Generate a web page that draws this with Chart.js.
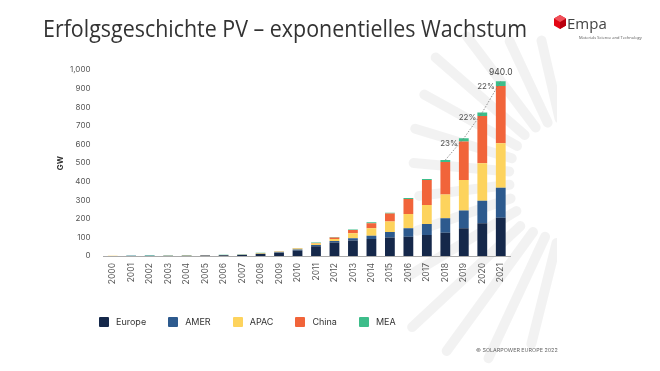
<!DOCTYPE html>
<html><head><meta charset="utf-8">
<script src="https://cdn.jsdelivr.net/npm/chart.js@4"></script>
<style>
html,body{margin:0;padding:0;background:#fff;}
#page{position:relative;width:660px;height:371px;overflow:hidden;font-family:"Inter",sans-serif;}
#chart{position:absolute;left:0;top:0;}
#title{position:absolute;left:43px;top:12px;font-family:"Open Sans",sans-serif;font-size:24px;line-height:32px;color:#333;white-space:nowrap;transform-origin:0 50%;}
#logo{position:absolute;left:553px;top:14px;}
#empa{position:absolute;left:567px;top:13px;font-family:"Open Sans",sans-serif;font-size:15px;line-height:20px;color:#444;}
#empasub{position:absolute;left:579px;top:35px;font-family:"Open Sans",sans-serif;font-size:4px;line-height:5px;color:#555;white-space:nowrap;}
#legend{position:absolute;left:99px;top:316px;display:flex;align-items:center;font-size:9px;color:#333;}
#legend .it{display:flex;align-items:center;margin-right:22px;}
#legend .sw{width:10px;height:10px;border-radius:1px;margin-right:7px;}
#copy{position:absolute;left:476px;top:346px;font-size:5.4px;line-height:8px;color:#666;white-space:nowrap;}
</style></head>
<body><div id="page">
<canvas id="chart" width="660" height="371"></canvas>
<div id="title">Erfolgsgeschichte PV – exponentielles Wachstum</div>
<svg id="logo" width="14" height="16" viewBox="0 0 14 16">
 <polygon points="7,1 13,4.5 13,11.5 7,15 1,11.5 1,4.5" fill="#e30613"/>
 <polygon points="7,8 13,4.5 13,11.5 7,15" fill="#b8000f"/>
 <polygon points="7,1 13,4.5 7,8 1,4.5" fill="#f0505a"/>
</svg>
<div id="empa">Empa</div>
<div id="empasub">Materials Science and Technology</div>
<div id="legend"></div>
<div id="copy">© SOLARPOWER EUROPE 2022</div>
</div>
<script>
// ---- data ----
const years = ["2000","2001","2002","2003","2004","2005","2006","2007","2008","2009","2010","2011","2012","2013","2014","2015","2016","2017","2018","2019","2020","2021"];
const seriesNames = ["Europe","AMER","APAC","China","MEA"];
const europe = [0.2,0.5,0.5,0.6,0.7,2.5,3.5,5.5,11,17,30,53,72,84,91,99,104,113,125,149,176,206];
const amer   = [0.1,0.2,0.2,0.2,0.3,0.5,0.7,1,1.5,2.5,4.5,6,9,11,18,30,45,59,78,95,121,161];
const apac   = [0.4,1,1.2,1.3,1.5,1,1.2,2,3,4,5.5,8,11,27,40,56,77,102,127,165,201,239];
const china  = [0.5,0,0,0,0,0,0,0,0.3,0.5,1,3,7,18,27,44,80,135,175,206,255,308];
const mea    = [0,1.3,1.6,1.9,2,0.5,0.8,1.5,2,2,2,2,3,3,5,4,6,5,11,18,19,26];
const seriesColors = ["#15284a","#2d5a8e","#fdd35d","#f1643a","#3dbd8a"];
const growthFrom = "2018";
const yTicksMax = 1000, yTickStep = 100;

// ---- layout decoration ----
const RAY_C = {x:573, y:177};
const RAYS = [[104,68,172],[115,66,200],[126,68,215],[137,72,220],[149,66,190],[161,66,165],[173,64,155],[185,64,160],[197,64,165],[209,64,170],[221,64,182],[233,62,176],[245,60,150],[257,60,140]];

const seriesData = [europe, amer, apac, china, mea];
const totals = years.map((_,i)=>seriesData.reduce((s,a)=>s+a[i],0));

// legend
const lg = document.getElementById('legend');
seriesNames.forEach((n,k)=>{
  const it=document.createElement('div'); it.className='it';
  it.innerHTML='<div class="sw" style="background:'+seriesColors[k]+'"></div><span>'+n+'</span>';
  lg.appendChild(it);
});

// fit title width
const t=document.getElementById('title');
const w=t.getBoundingClientRect().width;
t.style.transform='scaleX('+(484/w)+')';

const raysPlugin = {id:'rays', beforeDraw(chart){
  const c=chart.ctx; c.save(); c.beginPath(); c.rect(0,0,557,371); c.clip();
  c.strokeStyle='rgba(0,0,0,0.05)'; c.lineWidth=10; c.lineCap='round';
  RAYS.forEach(([a,r0,r1])=>{const th=a*Math.PI/180, cs=Math.cos(th), sn=Math.sin(th);
    c.beginPath(); c.moveTo(RAY_C.x+r0*cs, RAY_C.y+r0*sn); c.lineTo(RAY_C.x+r1*cs, RAY_C.y+r1*sn); c.stroke();});
  c.restore();
}};

const growthPlugin = {id:'growth', afterDatasetsDraw(chart){
  const c=chart.ctx, xs=chart.scales.x, ys=chart.scales.y;
  const start=years.indexOf(growthFrom);
  c.save();
  c.strokeStyle='#777'; c.lineWidth=0.8; c.setLineDash([1.5,1.5]);
  c.beginPath();
  for(let i=start;i<years.length;i++){const px=xs.getPixelForValue(i), py=ys.getPixelForValue(totals[i]);
    if(i===start) c.moveTo(px,py); else c.lineTo(px,py);}
  c.stroke(); c.setLineDash([]);
  c.font='8px Inter'; c.fillStyle='#555'; c.textAlign='right'; c.textBaseline='middle';
  for(let i=start+1;i<years.length;i++){
    const g=Math.round((totals[i]/totals[i-1]-1)*100)+'%';
    c.fillText(g, xs.getPixelForValue(i)-6, ys.getPixelForValue(totals[i])+5);
  }
  const L=years.length-1;
  c.textAlign='center'; c.fillStyle='#444'; c.font='8.5px Inter';
  c.fillText(totals[L].toFixed(1), xs.getPixelForValue(L), ys.getPixelForValue(totals[L])-9);
  c.restore();
}};

new Chart(document.getElementById('chart'), {
  type:'bar',
  data:{labels:years, datasets:seriesNames.map((n,k)=>({label:n, data:seriesData[k], backgroundColor:seriesColors[k], borderWidth:0, barPercentage:0.53, categoryPercentage:1}))},
  options:{
    responsive:false, animation:false, devicePixelRatio:1,
    layout:{padding:{left:52,right:150,top:70,bottom:75}},
    plugins:{legend:{display:false}, tooltip:{enabled:false}},
    scales:{
      x:{stacked:true, grid:{display:false, drawTicks:false}, border:{display:true,color:'#aaa',width:1},
         ticks:{minRotation:90,maxRotation:90,padding:7,color:'#555',font:{family:'Inter',size:8.5},autoSkip:false},
         afterFit(s){s.height=40;}},
      y:{stacked:true, min:0, max:yTicksMax, grid:{display:false, drawTicks:false}, border:{display:false},
         ticks:{stepSize:yTickStep,padding:13,color:'#555',font:{family:'Inter',size:8},callback:v=>v.toLocaleString('en-US')},
         title:{display:true,text:'GW',color:'#333',font:{family:'Inter',size:8,weight:'bold'},padding:{top:4,bottom:0}},
         afterFit(s){s.width=51.5;}}
    }
  },
  plugins:[raysPlugin, growthPlugin]
});
</script>
</body></html>
